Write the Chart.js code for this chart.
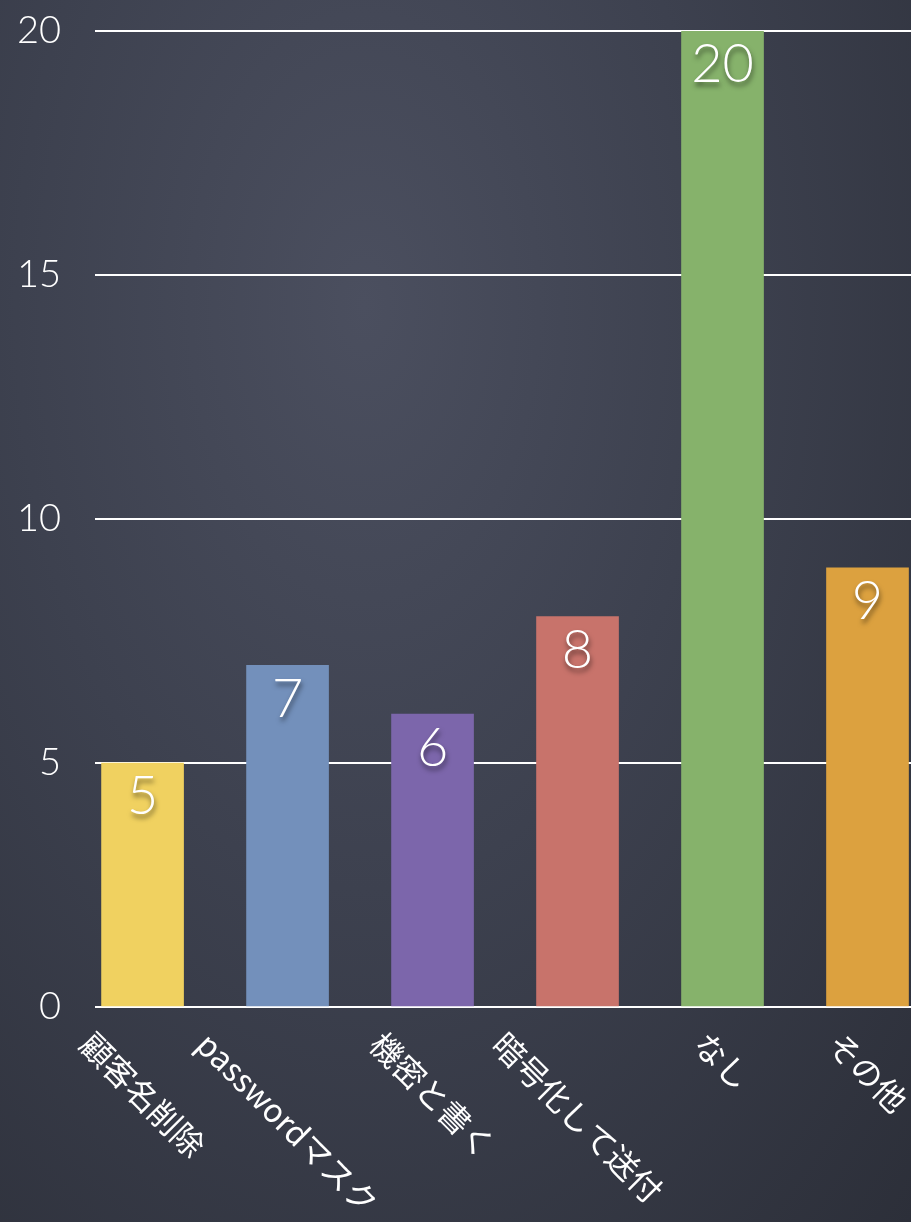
<!DOCTYPE html>
<html>
<head>
<meta charset="utf-8">
<script src="https://cdn.jsdelivr.net/npm/chart.js@4.4.1/dist/chart.umd.min.js"></script>
<style>
  html, body { margin: 0; padding: 0; width: 911px; height: 1222px; overflow: hidden; }
  body { background: radial-gradient(ellipse at 40% 25%, #4b4f5f 0%, #3d414f 45%, #2c2f39 100%); }
  #wrap { position: relative; width: 911px; height: 1222px; }
</style>
</head>
<body>
<div id="wrap"><canvas id="chart"></canvas></div>
<script>
// data
const categories = ["顧客名削除", "passwordマスク", "機密と書く", "暗号化して送付", "なし", "その他"];
const values = [5, 7, 6, 8, 20, 9];
const barColors = ["#f0d160", "#7390bb", "#7c66ab", "#c8736b", "#86b26b", "#dca13f"];
const yTicks = [0, 5, 10, 15, 20];

// value labels inside the bars + rotated category labels under the axis
const labelPlugin = {
    id: "barLabels",
    afterDatasetsDraw: function (chart) {
        const ctx = chart.ctx;
        const meta = chart.getDatasetMeta(0);
        const xScale = chart.scales.x;

        ctx.save();
        ctx.font = '300 54px Lato, "Noto Sans", sans-serif';
        ctx.fillStyle = "#ffffff";
        ctx.textAlign = "center";
        ctx.textBaseline = "middle";
        ctx.shadowColor = "rgba(0,0,0,0.55)";
        ctx.shadowBlur = 5;
        ctx.shadowOffsetX = 1;
        ctx.shadowOffsetY = 4;
        meta.data.forEach((bar, i) => {
            ctx.fillText(String(values[i]), bar.x, bar.y + 34);
        });
        ctx.restore();

        ctx.save();
        const size = 32;
        ctx.font = size + 'px "Noto Sans CJK JP", "Noto Sans", sans-serif';
        ctx.fillStyle = "#ffffff";
        ctx.textAlign = "center";
        ctx.textBaseline = "middle";
        const top = chart.chartArea.bottom + 20;
        categories.forEach((label, i) => {
            const w = ctx.measureText(label).width;
            const x = xScale.getPixelForValue(i);
            const y = top + (w + size) / (2 * Math.SQRT2);
            ctx.save();
            ctx.translate(x, y);
            ctx.rotate(Math.PI / 4);
            ctx.fillText(label, 0, 0);
            ctx.restore();
        });
        ctx.restore();
    }
};

const ctx = document.getElementById("chart").getContext("2d");
new Chart(ctx, {
    type: "bar",
    data: {
        datasets: [{
            data: values.map((v, i) => ({ x: i, y: v })),
            backgroundColor: barColors,
            borderWidth: 0,
            barThickness: 82
        }]
    },
    options: {
        responsive: true,
        maintainAspectRatio: false,
        animation: false,
        layout: { padding: { left: 19, top: 31, right: 0, bottom: 207 } },
        plugins: {
            legend: { display: false },
            tooltip: { enabled: false }
        },
        scales: {
            x: {
                type: "linear",
                offset: false,
                min: -0.328,
                max: 5.3,
                grid: { display: false },
                border: { display: false },
                ticks: { display: false }
            },
            y: {
                min: 0,
                max: 20,
                afterBuildTicks: (axis) => { axis.ticks = yTicks.map(v => ({ value: v })); },
                afterFit: (axis) => {
                    axis.width = 76;
                    // ticks.padding also gets added above/below the axis, drop that
                    axis.paddingTop = 0;
                    axis.paddingBottom = 0;
                },
                grid: { color: "#ffffff", lineWidth: 2, drawTicks: false },
                border: { display: false },
                ticks: { color: "#ffffff", font: { family: 'Lato, "Noto Sans", sans-serif', size: 38, weight: "300" }, padding: 34 }
            }
        }
    },
    plugins: [labelPlugin]
});
</script>
</body>
</html>
